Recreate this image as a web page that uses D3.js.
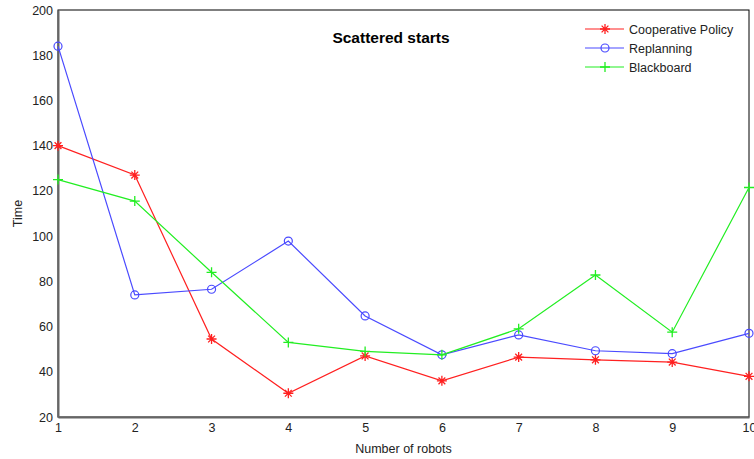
<!DOCTYPE html>
<html>
<head>
<meta charset="utf-8">
<script src="https://cdn.jsdelivr.net/npm/d3@7"></script>
<style>
  body { margin: 0; background: #fff; }
  text { font-family: "Liberation Sans", Arial, sans-serif; }
</style>
</head>
<body>
<script>
var robots = [1, 2, 3, 4, 5, 6, 7, 8, 9, 10];
var cooperative = [140, 127, 54.5, 30.5, 47, 36, 46.5, 45.3, 44.3, 38];
var replanning = [184, 74, 76.5, 97.8, 64.7, 47.5, 56.3, 49.3, 48, 57];
var blackboard = [125, 115.5, 84, 53, 49, 47.5, 59, 82.8, 57.5, 121.5];
var yTicks = [20, 40, 60, 80, 100, 120, 140, 160, 180, 200];

var w = 754, h = 459;
var margin = {left: 58, right: 5, top: 10, bottom: 42};

var svg = d3.select("body").append("svg")
    .attr("width", w)
    .attr("height", h);

var x = d3.scaleLinear().domain([1, 10]).range([margin.left, w - margin.right]);
var y = d3.scaleLinear().domain([20, 200]).range([h - margin.bottom, margin.top]);

// box
svg.append("rect")
    .attr("x", x(1)).attr("y", y(200))
    .attr("width", x(10) - x(1)).attr("height", y(20) - y(200))
    .attr("fill", "#fff").attr("stroke", "#000").attr("stroke-width", 1);

// axes
var xAxis = svg.append("g")
    .attr("transform", "translate(0," + y(20) + ")")
    .call(d3.axisBottom(x).tickValues(robots).tickSize(0).tickPadding(6).tickFormat(d3.format("d")));
var yAxis = svg.append("g")
    .attr("transform", "translate(" + x(1) + ",0)")
    .call(d3.axisLeft(y).tickValues(yTicks).tickSize(0).tickPadding(5));
[xAxis, yAxis].forEach(function(a){
    a.select(".domain").attr("stroke", "#666").attr("stroke-width", 2);
    a.selectAll("text").attr("fill", "#222").style("font-size", "12.5px");
});

// series
var series = [
    {name: "Cooperative Policy", values: cooperative, color: "#ff2020", marker: "star"},
    {name: "Replanning", values: replanning, color: "#4a4aff", marker: "circle"},
    {name: "Blackboard", values: blackboard, color: "#22ee22", marker: "plus"}
];

var line = d3.line()
    .x(function(d, i){ return x(robots[i]); })
    .y(function(d){ return y(d); });

function drawMarker(g, cx, cy, type, color){
    if (type === "circle") {
        g.append("circle").attr("cx", cx).attr("cy", cy).attr("r", 4)
            .attr("fill", "none").attr("stroke", color).attr("stroke-width", 1.2);
    } else {
        var s = 5;
        var p = "M" + (cx - s) + "," + cy + "H" + (cx + s) + "M" + cx + "," + (cy - s) + "V" + (cy + s);
        if (type === "star") {
            var t = 3.4;
            p += "M" + (cx - t) + "," + (cy - t) + "L" + (cx + t) + "," + (cy + t) +
                 "M" + (cx - t) + "," + (cy + t) + "L" + (cx + t) + "," + (cy - t);
        }
        g.append("path").attr("d", p).attr("stroke", color).attr("stroke-width", 1.3).attr("fill", "none");
    }
}

series.forEach(function(s){
    svg.append("path")
        .datum(s.values)
        .attr("d", line)
        .attr("fill", "none")
        .attr("stroke", s.color)
        .attr("stroke-width", 1.2);
    var g = svg.append("g");
    s.values.forEach(function(v, i){ drawMarker(g, x(robots[i]), y(v), s.marker, s.color); });
});

// title and labels
svg.append("text")
    .attr("x", 391).attr("y", 43)
    .attr("text-anchor", "middle")
    .style("font-size", "15.5px").style("font-weight", "bold")
    .text("Scattered starts");

svg.append("text")
    .attr("x", (x(1) + x(10)) / 2).attr("y", 453)
    .attr("text-anchor", "middle")
    .style("font-size", "12.5px").attr("fill", "#222")
    .text("Number of robots");

svg.append("text")
    .attr("transform", "translate(22," + ((y(20) + y(200)) / 2) + ") rotate(-90)")
    .attr("text-anchor", "middle")
    .style("font-size", "12.5px").attr("fill", "#222")
    .text("Time");

// legend
var legend = svg.append("g");
series.forEach(function(s, i){
    var ly = 29 + i * 19;
    legend.append("line")
        .attr("x1", 585).attr("x2", 624).attr("y1", ly).attr("y2", ly)
        .attr("stroke", s.color).attr("stroke-width", 1.2);
    drawMarker(legend, 605, ly, s.marker, s.color);
    legend.append("text")
        .attr("x", 629).attr("y", ly + 4.5)
        .style("font-size", "12.5px").attr("fill", "#222")
        .text(s.name);
});
</script>
</body>
</html>
